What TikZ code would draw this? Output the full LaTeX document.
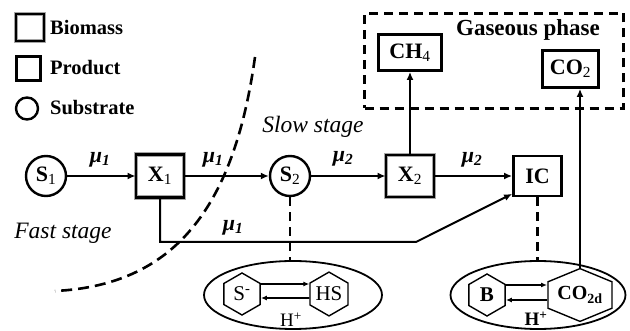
\documentclass[tikz,border=0pt]{standalone}
\usepackage{graphicx}
\usepackage{fontspec}
\setmainfont{Liberation Serif}
\usepackage{tikz}
\usetikzlibrary{arrows.meta, positioning, shapes.geometric}
\definecolor{rimgray}{RGB}{165,165,165}
\newcommand{\fsz}[1]{\fontsize{#1}{#1}\selectfont}

\begin{document}
\begin{tikzpicture}[x=1pt, y=-1pt,
  biomass/.style={draw=rimgray, line width=0.9pt, double=black, double distance=2.4pt, inner sep=0pt, font=\fsz{22}\bfseries},
  product/.style={draw, line width=2.8pt, inner sep=0pt, font=\fsz{22}\bfseries},
  substrate/.style={draw, circle, line width=2.4pt, inner sep=0pt, font=\fsz{22}\bfseries},
  hexa/.style={draw, regular polygon, regular polygon sides=6, regular polygon rotate=30, minimum size=42pt, inner sep=0pt, line width=1.4pt, font=\fsz{21}},
  flow/.style={-{Latex[length=8pt, width=7pt]}, line width=2pt},
  swap/.style={-{Latex[length=6pt, width=5pt]}, line width=1.6pt},
  link/.style={line width=2.6pt, dash pattern=on 9pt off 6pt},
  rate/.style={font=\fsz{22}\bfseries\itshape},
  legend/.style={font=\fsz{20.5}\bfseries, anchor=west, inner sep=0pt},
  stage/.style={font=\fsz{23.5}\itshape}]
  \useasboundingbox (0,0) rectangle (630,331);

  \node[biomass, minimum width=28, minimum height=27] (keybio) at (30,27.5) {};
  \node[legend] (keybiotxt) at (50,27) {Biomass};
  \node[product, minimum size=24] (keyprod) at (28.5,68.5) {};
  \node[legend] (keyprodtxt) at (50,68) {Product};
  \node[substrate, minimum size=22] (keysub) at (27,108.5) {};
  \node[legend] (keysubtxt) at (50,108) {Substrate};

  \node[draw, link, line width=2.8pt, minimum width=259, minimum height=95] (gas) at (494,61) {};
  \node[font=\fsz{23}\bfseries] (gastxt) at (528,30) {Gaseous phase};
  \node[product, minimum width=63, minimum height=36] (ch4) at (410,52.5) {CH\textsubscript{\mdseries 4}};
  \node[product, minimum width=56, minimum height=37] (co2) at (570.5,69) {CO\textsubscript{\mdseries 2}};

  \node[substrate, minimum size=40] (s1) at (46,176) {S\textsubscript{\mdseries 1}};
  \node[biomass, minimum width=48, minimum height=43] (x1) at (160,176) {X\textsubscript{\mdseries 1}};
  \node[substrate, minimum size=40] (s2) at (290,176) {S\textsubscript{\mdseries 2}};
  \node[biomass, minimum width=48, minimum height=42] (x2) at (410,176) {X\textsubscript{\mdseries 2}};
  \node[product, minimum width=48, minimum height=40] (ic) at (537.5,176) {IC};

  \node[rate] (r1) at (100,160) {μ\textsubscript{1}};
  \node[rate] (r2) at (213,160) {μ\textsubscript{1}};
  \node[rate] (r3) at (343,159) {μ\textsubscript{2}};
  \node[rate] (r4) at (472,160) {μ\textsubscript{2}};
  \node[rate] (r5) at (233,228) {μ\textsubscript{1}};

  \node[stage] (slow) at (313,127) {Slow stage};
  \node[stage] (fast) at (63,233) {Fast stage};

  \node[draw, ellipse, line width=1.8pt, minimum width=178, minimum height=68] (pool1) at (293,295) {};
  \node[draw, ellipse, line width=1.8pt, minimum width=175, minimum height=68] (pool2) at (538,295) {};
  \node[hexa] (sm) at (242,294) {S\textsuperscript{-}};
  \node[hexa] (hs) at (329,294) {HS};
  \node[hexa, font=\fsz{21}\bfseries] (b) at (487,295) {B};
  \begin{scope}[shift={(580,295)}, xscale=1.4]
    \node[hexa, transform shape, font=\fsz{20}\bfseries] (co2d) at (0,0) {\scalebox{0.714}[1]{CO\textsubscript{2d}}};
  \end{scope}
  \node[font=\fsz{19}, inner sep=0pt] (hp1) at (291,320) {H\textsuperscript{+}};
  \node[font=\fsz{19}\bfseries, inner sep=0pt] (hp2) at (536,319) {H\textsuperscript{+}};

  \coordinate (bend) at (416,242);
  \draw[flow] (s1) -- (x1);
  \draw[flow] (x1) -- (s2);
  \draw[flow] (s2) -- (x2);
  \draw[flow] (x2) -- (ic);
  \draw[flow] (x2) -- (ch4);
  \draw[flow] (x1.south) |- (bend) -- ([yshift=3.5pt]ic.south west);
  \draw[flow] (co2d.north) -- (co2d.north |- co2.south);
  \draw[link] (s2.south) -- (s2.south |- pool1.north);
  \draw[link] (ic.south) -- (ic.south |- pool2.north);
  \draw[swap] ([yshift=10pt]sm.east) -- ([yshift=10pt]hs.west);
  \draw[swap] ([yshift=-4pt]hs.west) -- ([yshift=-4pt]sm.east);
  \draw[swap] ([yshift=10pt]b.east) -- ([yshift=10pt]co2d.west);
  \draw[swap] ([yshift=-5pt]co2d.west) -- ([yshift=-5pt]b.east);
  \draw[link, dash pattern=on 11pt off 6pt] (255,57) .. controls (235,200) and (180,285) .. (55,291);
\end{tikzpicture}
\end{document}
